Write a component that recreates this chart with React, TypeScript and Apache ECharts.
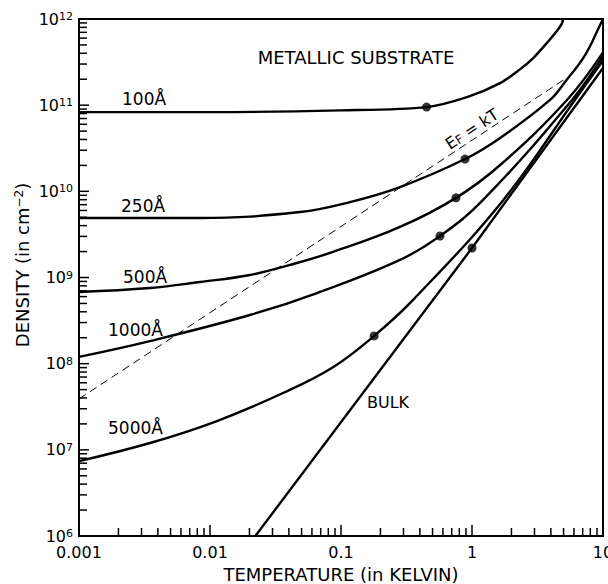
import React, { useEffect, useRef } from 'react';
import * as echarts from 'echarts';

const FONT = 'DejaVu Sans';

// axis ticks
const xTickLabels = ['0.001', '0.01', '0.1', '1', '10'];
const xDecades = [-3, -2, -1, 0];
const yDecades = [6, 7, 8, 9, 10, 11];
const minorMultipliers = [2, 3, 4, 5, 6, 7, 8, 9];

// curves: temperature (K) and density (cm^-2)
const t100 = [0.001, 0.01, 0.1, 0.45, 0.916, 1.64, 2.32, 2.92, 3.74, 4.46, 4.86, 4.96];
const n100 = [8.3e10, 8.3e10, 8.7e10, 9.5e10, 1.24e11, 1.8e11, 2.6e11, 3.5e11, 5.3e11, 7.3e11, 8.9e11, 1e12];

const t250 = [0.001, 0.0084, 0.0486, 0.117, 0.282, 0.885, 1.64, 3.94, 5.13, 7.3, 9.5, 10];
const n250 = [4.9e9, 4.9e9, 5.75e9, 7.5e9, 1.12e10, 2.37e10, 4.16e10, 1.15e11, 1.86e11, 3.82e11, 8.5e11, 1e12];

const t500 = [0.001, 0.00348, 0.0084, 0.0202, 0.0408, 0.0869, 0.282, 0.755, 1.64, 5.31, 10];
const n500 = [6.8e8, 7.55e8, 8.87e8, 1.07e9, 1.4e9, 1.98e9, 3.86e9, 8.4e9, 2.02e10, 1.15e11, 4.1e11];

const t1000 = [0.001, 0.00348, 0.0202, 0.0656, 0.282, 0.57, 1.21, 5.8, 10];
const n1000 = [1.2e8, 1.83e8, 3.67e8, 6.6e8, 1.6e9, 3.03e9, 7.9e9, 1.15e11, 3.7e11];

const t5000 = [0.001, 0.00348, 0.0113, 0.0361, 0.0869, 0.179, 0.355, 1.73, 6.1, 10];
const n5000 = [7.4e6, 1.2e7, 2.16e7, 4.57e7, 9.1e7, 2.1e8, 5.5e8, 7.9e9, 1.15e11, 3.3e11];

const tBulk = [0.0222, 1.0, 10];
const nBulk = [1e6, 2.2e9, 2.7e11];

const tFermi = [0.001, 5.1];
const nFermi = [3.9e7, 2.0e11];

// marked points on curves
const dotT = [0.45, 0.885, 0.755, 0.57, 0.179, 1.0];
const dotN = [9.5e10, 2.37e10, 8.4e9, 3.03e9, 2.1e8, 2.2e9];

const zip = (a: number[], b: number[]) => a.map((v, i) => [v, b[i]]);

export default function App() {
  const ref = useRef<HTMLDivElement>(null);
  useEffect(() => {
    if (!ref.current) return;
    const chart = echarts.init(ref.current, undefined, { renderer: 'svg' });

    const tickData: number[][] = [];
    xDecades.forEach((d) => {
      tickData.push([Math.pow(10, d), 1e6, 11, 0]);
      minorMultipliers.forEach((m) => tickData.push([m * Math.pow(10, d), 1e6, 8, 0]));
    });
    yDecades.forEach((d) => {
      tickData.push([0.001, Math.pow(10, d), 10, 1]);
      minorMultipliers.forEach((m) => tickData.push([0.001, m * Math.pow(10, d), 8, 1]));
    });
    tickData.push([0.001, 1e12, 10, 1]);

    const curve = (t: number[], n: number[], smooth: number | boolean = 0.4) => ({
      type: 'line',
      data: zip(t, n),
      showSymbol: false,
      smooth,
      lineStyle: { color: '#000', width: 2.4 },
      z: 3,
    });

    const label = (text: string, x: number, y: number, fontSize = 17, align = 'left') => ({
      type: 'text',
      x,
      y,
      style: { text, fontFamily: FONT, fontSize, fill: '#000', align, verticalAlign: 'middle' },
    });

    chart.setOption({
      animation: false,
      backgroundColor: '#fff',
      grid: {
        left: 79,
        right: 5,
        top: 19,
        bottom: 48,
        show: true,
        borderColor: '#000',
        borderWidth: 2,
        containLabel: false,
        outerBoundsMode: 'none',
      },
      xAxis: {
        type: 'log',
        logBase: 10,
        min: 0.001,
        max: 10,
        splitNumber: 4,
        axisLine: { show: true, lineStyle: { color: '#000', width: 2 } },
        axisTick: { show: false },
        splitLine: { show: false },
        axisLabel: {
          color: '#000',
          fontFamily: FONT,
          fontSize: 16,
          margin: 8,
          hideOverlap: false,
          formatter: (v: number) => xTickLabels[Math.round(Math.log10(v)) + 3] ?? '',
        },
        name: 'TEMPERATURE (in KELVIN)',
        nameLocation: 'middle',
        nameGap: 29,
        nameTextStyle: { color: '#000', fontFamily: FONT, fontSize: 18 },
      },
      yAxis: {
        type: 'log',
        logBase: 10,
        min: 1e6,
        max: 1e12,
        splitNumber: 6,
        axisLine: { show: true, lineStyle: { color: '#000', width: 2 } },
        axisTick: { show: false },
        splitLine: { show: false },
        axisLabel: {
          color: '#000',
          margin: 6,
          formatter: (v: number) => `{b|10}{s|${Math.round(Math.log10(v))}}`,
          rich: {
            b: { fontFamily: FONT, fontSize: 16, color: '#000', verticalAlign: 'bottom' },
            s: { fontFamily: FONT, fontSize: 11, color: '#000', verticalAlign: 'top' },
          },
        },
      },
      graphic: [
        label('METALLIC SUBSTRATE', 356, 57, 18, 'center'),
        label('100Å', 122, 99),
        label('250Å', 121, 206),
        label('500Å', 123, 277),
        label('1000Å', 108, 330),
        label('5000Å', 108, 428),
        label('BULK', 367, 402, 16),
        {
          type: 'text', x: 472, y: 129, rotation: 0.58,
          style: {
            text: '{a|E}{b|F}{a| = kT}', align: 'center', verticalAlign: 'middle',
            rich: {
              a: { fontFamily: FONT, fontSize: 16, fill: '#000', color: '#000', verticalAlign: 'top' },
              b: { fontFamily: FONT, fontSize: 12, fill: '#000', color: '#000', verticalAlign: 'bottom' },
            },
          },
        },
        {
          type: 'text', x: 22, y: 265, rotation: Math.PI / 2,
          style: {
            text: '{a|DENSITY (in cm}{s|−2}{a|)}', align: 'center', verticalAlign: 'middle',
            rich: {
              a: { fontFamily: FONT, fontSize: 18, fill: '#000', color: '#000', verticalAlign: 'bottom' },
              s: { fontFamily: FONT, fontSize: 12, fill: '#000', color: '#000', verticalAlign: 'top' },
            },
          },
        },
      ],
      series: [
        {
          type: 'custom',
          data: tickData,
          clip: false,
          z: 5,
          renderItem: (_p: any, api: any) => {
            const p = api.coord([api.value(0), api.value(1)]);
            const len = api.value(2);
            const dir = api.value(3);
            return {
              type: 'line',
              shape: dir ? { x1: p[0], y1: p[1], x2: p[0] + len, y2: p[1] } : { x1: p[0], y1: p[1], x2: p[0], y2: p[1] - len },
              style: { stroke: '#000', lineWidth: 1.5 },
            };
          },
        },
        curve(t100, n100, 0.3),
        curve(t250, n250),
        curve(t500, n500),
        curve(t1000, n1000),
        curve(t5000, n5000),
        curve(tBulk, nBulk, false),
        {
          type: 'line',
          data: zip(tFermi, nFermi),
          showSymbol: false,
          lineStyle: { color: '#000', width: 1, type: [8, 5] },
          z: 2,
        },
        {
          type: 'scatter',
          data: zip(dotT, dotN),
          symbol: 'circle',
          symbolSize: 9,
          itemStyle: { color: '#000' },
          z: 4,
        },
      ],
    });
    return () => chart.dispose();
  }, []);
  return <div ref={ref} style={{ position: 'fixed', left: 0, top: 0, width: 608, height: 584 }} />;
}
